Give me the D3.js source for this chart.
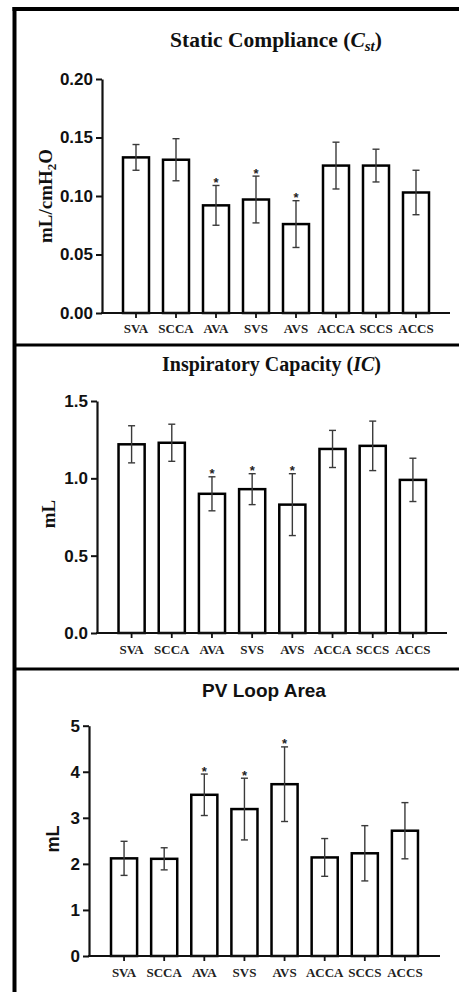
<!DOCTYPE html>
<html>
<head>
<meta charset="utf-8">
<script src="https://cdn.jsdelivr.net/npm/d3@7"></script>
<style>
  body { margin: 0; background: #fff; }
  svg { display: block; }
</style>
</head>
<body>
<script>
// groups, same order in every panel
const categories = ["SVA", "SCCA", "AVA", "SVS", "AVS", "ACCA", "SCCS", "ACCS"];
const starred = ["AVA", "SVS", "AVS"];

// static compliance, mL/cmH2O
const cstMean = [0.133, 0.131, 0.092, 0.097, 0.076, 0.126, 0.126, 0.103];
const cstErr  = [0.011, 0.018, 0.017, 0.020, 0.020, 0.020, 0.014, 0.019];
const cstTicks = [0, 0.05, 0.10, 0.15, 0.20];

// inspiratory capacity, mL
const icMean = [1.22, 1.23, 0.90, 0.93, 0.83, 1.19, 1.21, 0.99];
const icErr  = [0.12, 0.12, 0.11, 0.10, 0.20, 0.12, 0.16, 0.14];
const icTicks = [0, 0.5, 1.0, 1.5];

// PV loop area, mL
const pvMean = [2.12, 2.11, 3.50, 3.19, 3.73, 2.14, 2.23, 2.72];
const pvErr  = [0.37, 0.24, 0.45, 0.67, 0.81, 0.41, 0.60, 0.61];
const pvTicks = [0, 1, 2, 3, 4, 5];

const W = 459, H = 992;
const serif = "'Liberation Serif', 'Times New Roman', serif";
const sans = "'Liberation Sans', Arial, sans-serif";

let svg = d3.select("body").append("svg")
    .attr("width", W)
    .attr("height", H);

// outer frame + dividers
svg.append("line").attr("x1", 14.5).attr("x2", 14.5).attr("y1", 7).attr("y2", H)
    .attr("stroke", "#000").attr("stroke-width", 4);
svg.append("line").attr("x1", 12.5).attr("x2", W).attr("y1", 9).attr("y2", 9)
    .attr("stroke", "#000").attr("stroke-width", 4);
[345, 669].forEach(y => {
    svg.append("line").attr("x1", 13).attr("x2", W).attr("y1", y).attr("y2", y)
        .attr("stroke", "#000").attr("stroke-width", 3);
});

const panels = [
    {mean: cstMean, err: cstErr, ticks: cstTicks, fmt: d3.format(".2f"),
     yTop: 79, yBot: 313, axisX: 102, xEnd: 450, band: [116, 436],
     titleX: 276, titleY: 47, font: serif, labX: 45, labY: 196, xLabY: 333},
    {mean: icMean, err: icErr, ticks: icTicks, fmt: d3.format(".1f"),
     yTop: 401, yBot: 633, axisX: 97, xEnd: 447, band: [111.5, 433],
     titleX: 271.5, titleY: 371, font: serif, labX: 48, labY: 514, xLabY: 654},
    {mean: pvMean, err: pvErr, ticks: pvTicks, fmt: d3.format("d"),
     yTop: 725.7, yBot: 956, axisX: 89, xEnd: 440, band: [104, 425],
     titleX: 264, titleY: 697, font: sans, labX: 53, labY: 839, xLabY: 977}
];

panels.forEach((p, i) => {
    let g = svg.append("g");
    let data = categories.map((c, k) => ({cat: c, mean: p.mean[k], err: p.err[k]}));

    let x = d3.scaleBand()
        .domain(categories)
        .range(p.band)
        .paddingInner(0.35)
        .paddingOuter(0.175);

    let y = d3.scaleLinear()
        .domain([0, d3.max(p.ticks)])
        .range([p.yBot, p.yTop]);

    // title
    let t = g.append("text")
        .attr("x", p.titleX).attr("y", p.titleY)
        .attr("text-anchor", "middle")
        .attr("font-family", p.font)
        .attr("font-weight", "bold")
        .attr("fill", "#111");
    if (i == 0) {
        t.attr("font-size", "21.5px");
        t.append("tspan").text("Static Compliance (");
        t.append("tspan").attr("font-style", "italic").text("C");
        t.append("tspan").attr("font-style", "italic").attr("font-size", "15px")
            .attr("dy", 4).text("st");
        t.append("tspan").attr("dy", -4).text(")");
    } else if (i == 1) {
        t.attr("font-size", "20px");
        t.append("tspan").text("Inspiratory Capacity (");
        t.append("tspan").attr("font-style", "italic").text("IC");
        t.append("tspan").text(")");
    } else {
        t.attr("font-size", "19px").text("PV Loop Area");
    }

    // y label
    let yl = g.append("text")
        .attr("transform", `translate(${p.labX},${p.labY}) rotate(-90)`)
        .attr("text-anchor", "middle")
        .attr("dy", "0.35em")
        .attr("font-family", p.font)
        .attr("font-weight", "bold")
        .attr("font-size", i == 2 ? "18px" : "19px")
        .attr("fill", "#111");
    if (i == 0) {
        yl.append("tspan").text("mL/cmH");
        yl.append("tspan").attr("font-size", "13px").attr("dy", 4).text("2");
        yl.append("tspan").attr("dy", -4).text("O");
    } else {
        yl.text("mL");
    }

    // bars
    g.selectAll(".bar")
        .data(data)
        .join("rect")
        .attr("class", "bar")
        .attr("x", d => x(d.cat))
        .attr("y", d => y(d.mean))
        .attr("width", x.bandwidth())
        .attr("height", d => y(0) - y(d.mean))
        .attr("fill", "#fff")
        .attr("stroke", "#000")
        .attr("stroke-width", 2.5);

    // error bars
    let cx = d => x(d.cat) + x.bandwidth() / 2;
    let eb = g.selectAll(".err")
        .data(data)
        .join("g")
        .attr("class", "err")
        .attr("stroke", "#3a3a3a")
        .attr("stroke-width", 1.4);
    eb.append("line")
        .attr("x1", cx).attr("x2", cx)
        .attr("y1", d => y(d.mean - d.err))
        .attr("y2", d => y(d.mean + d.err));
    [-1, 1].forEach(s => {
        eb.append("line")
            .attr("x1", d => cx(d) - 3.5).attr("x2", d => cx(d) + 3.5)
            .attr("y1", d => y(d.mean + s * d.err))
            .attr("y2", d => y(d.mean + s * d.err));
    });

    // significance stars
    g.selectAll(".star")
        .data(data.filter(d => starred.includes(d.cat)))
        .join("text")
        .attr("class", "star")
        .attr("x", cx)
        .attr("y", d => y(d.mean + d.err) + 1.5)
        .attr("text-anchor", "middle")
        .attr("font-family", sans)
        .attr("font-weight", "bold")
        .attr("font-size", "13px")
        .attr("fill", "#222")
        .text("*");

    // y axis
    let yAxis = d3.axisLeft(y)
        .tickValues(p.ticks)
        .tickFormat(p.fmt)
        .tickSize(6)
        .tickSizeOuter(0)
        .tickPadding(3);
    let ga = g.append("g")
        .attr("transform", `translate(${p.axisX},0)`)
        .call(yAxis);
    ga.select(".domain").attr("stroke-width", 2.2).attr("stroke", "#111");
    ga.selectAll(".tick line").attr("stroke-width", 2).attr("stroke", "#111");
    ga.selectAll(".tick text")
        .attr("font-family", sans)
        .attr("font-weight", "bold")
        .attr("font-size", "17px")
        .attr("fill", "#111");

    // x axis
    let xAxis = d3.axisBottom(x).tickSize(5).tickSizeOuter(0);
    let gx = g.append("g")
        .attr("transform", `translate(0,${p.yBot})`)
        .call(xAxis);
    gx.select(".domain").remove();
    gx.selectAll(".tick line").attr("stroke-width", 1.8).attr("stroke", "#111");
    gx.selectAll(".tick text")
        .attr("y", p.xLabY - p.yBot)
        .attr("dy", 0)
        .attr("font-family", serif)
        .attr("font-weight", "bold")
        .attr("font-size", "13px")
        .attr("fill", "#222");
    g.append("line")
        .attr("x1", p.axisX - 1).attr("x2", p.xEnd)
        .attr("y1", p.yBot).attr("y2", p.yBot)
        .attr("stroke", "#111").attr("stroke-width", 2.2);
});
</script>
</body>
</html>
